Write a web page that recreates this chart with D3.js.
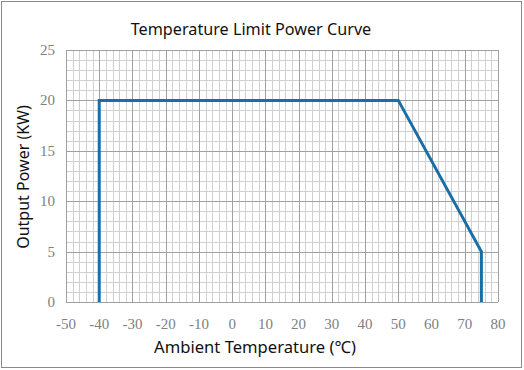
<!DOCTYPE html>
<html><head><meta charset="utf-8">
<script src="https://cdn.jsdelivr.net/npm/d3@7"></script>
<style>html,body{margin:0;padding:0;background:#fff;}svg{display:block;}</style>
</head><body>
<script>
const temps = [-40, -40, 50, 75, 75];
const power = [0, 20, 20, 5, 0];
const xTicks = [-50, -40, -30, -20, -10, 0, 10, 20, 30, 40, 50, 60, 70, 80];
const yTicks = [0, 5, 10, 15, 20, 25];
const title = "Temperature Limit Power Curve";
const xTitle = "Ambient Temperature (℃)";
const yTitle = "Output Power (KW)";

const W = 524, H = 370;
const svg = d3.select("body").append("svg").attr("width", W).attr("height", H);
svg.append("rect").attr("x", 1.5).attr("y", 1.5).attr("width", 520).attr("height", 366)
  .attr("fill", "#fff").attr("stroke", "#8a8a8a").attr("stroke-width", 1);

const x = d3.scaleLinear().domain([-50, 80]).range([66, 498]);
const y = d3.scaleLinear().domain([0, 25]).range([302, 50]);

const g = svg.append("g");
const xMinor = d3.range(-50, 81, 2);
const yMinor = d3.range(0, 26, 1);
g.selectAll(".vmin").data(xMinor.filter(v => v % 10 !== 0)).join("line")
  .attr("x1", d => Math.round(x(d)) + 0.5).attr("x2", d => Math.round(x(d)) + 0.5)
  .attr("y1", y(0)).attr("y2", y(25)).attr("stroke", "#d0d0d0").attr("stroke-width", 1);
g.selectAll(".hmin").data(yMinor.filter(v => v % 5 !== 0)).join("line")
  .attr("y1", d => Math.round(y(d)) + 0.5).attr("y2", d => Math.round(y(d)) + 0.5)
  .attr("x1", x(-50)).attr("x2", x(80)).attr("stroke", "#d0d0d0").attr("stroke-width", 1);
g.selectAll(".vmaj").data(xTicks).join("line")
  .attr("x1", d => Math.round(x(d)) + 0.5).attr("x2", d => Math.round(x(d)) + 0.5)
  .attr("y1", y(0)).attr("y2", y(25)).attr("stroke", "#a0a0a0").attr("stroke-width", 1);
g.selectAll(".hmaj").data(yTicks).join("line")
  .attr("y1", d => Math.round(y(d)) + 0.5).attr("y2", d => Math.round(y(d)) + 0.5)
  .attr("x1", x(-50)).attr("x2", x(80)).attr("stroke", "#a0a0a0").attr("stroke-width", 1);

svg.selectAll(".xl").data(xTicks).join("text")
  .attr("x", d => x(d)).attr("y", 329).attr("text-anchor", "middle")
  .style("font-family", "'Liberation Serif', serif").attr("font-size", 15).attr("fill", "#808080")
  .text(d => d);
svg.selectAll(".yl").data(yTicks).join("text")
  .attr("x", 55).attr("y", d => y(d) + 5).attr("text-anchor", "end")
  .style("font-family", "'Liberation Serif', serif").attr("font-size", 15).attr("fill", "#808080")
  .text(d => d);

const pts = temps.map((t, i) => [t, power[i]]);
svg.append("path").datum(pts)
  .attr("d", d3.line().x(d => x(d[0])).y(d => y(d[1])))
  .attr("fill", "none").attr("stroke", "#1a6ea8").attr("stroke-width", 3)
  .attr("stroke-linejoin", "miter");

svg.append("text").attr("x", 251).attr("y", 35).attr("text-anchor", "middle")
  .style("font-family", "'Noto Sans', sans-serif").attr("font-size", 16.2).attr("fill", "#111")
  .text(title);
svg.append("text").attr("x", 255).attr("y", 353).attr("text-anchor", "middle")
  .style("font-family", "'Noto Sans', sans-serif").attr("font-size", 16.6).attr("fill", "#111")
  .text(xTitle);
svg.append("text").attr("transform", "translate(29,177) rotate(-90)").attr("text-anchor", "middle")
  .style("font-family", "'Noto Sans', sans-serif").attr("font-size", 16).attr("fill", "#111")
  .text(yTitle);
</script>
</body></html>
